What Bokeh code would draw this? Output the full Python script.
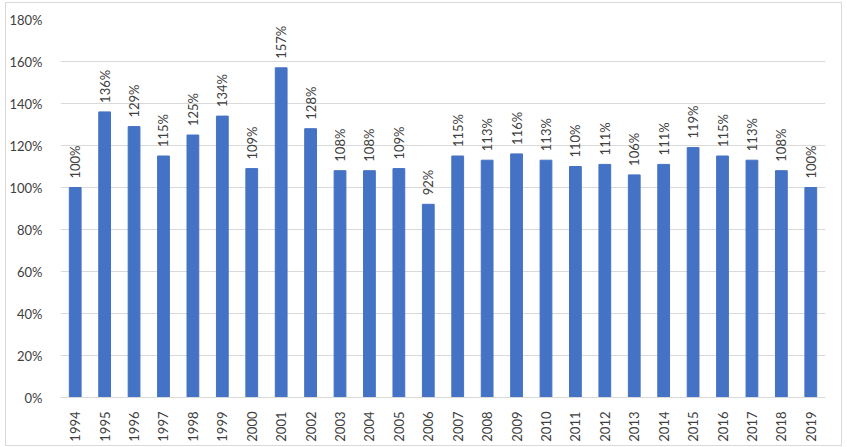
from math import pi
from bokeh.plotting import figure
from bokeh.models import ColumnDataSource, NumeralTickFormatter, FixedTicker
from bokeh.core.properties import value
from bokeh.embed import file_html
from bokeh.resources import INLINE

years = [str(y) for y in range(1994, 2020)]
ratios = [100, 136, 129, 115, 125, 134, 109, 157, 128, 108, 108, 109, 92,
          115, 113, 116, 113, 110, 111, 106, 111, 119, 115, 113, 108, 100]
labels = [f"{v}%" for v in ratios]

src = ColumnDataSource(dict(year=years, val=[v / 100 for v in ratios], lab=labels))

p = figure(x_range=years, y_range=(0, 1.8), width=837, height=444,
           output_backend="svg", toolbar_location=None,
           min_border_left=54, min_border_right=18, min_border_top=16, min_border_bottom=50)
p.margin = (2, 0, 0, 5)
p.styles = {"border": "1px solid #d9d9d9", "box-sizing": "border-box"}
p.vbar(x="year", top="val", width=0.4, color="#4472C4", source=src)
p.text(x="year", y="val", text="lab", source=src, angle=pi / 2,
       text_align="left", text_baseline="middle", y_offset=-9,
       text_font=value("Lato"), text_font_size="13px", text_color="#404040")

p.yaxis.ticker = FixedTicker(ticks=[i * 0.2 for i in range(10)])
p.yaxis.formatter = NumeralTickFormatter(format="0%")
p.yaxis.axis_line_color = None
p.xaxis.axis_line_color = "#d9d9d9"
for ax in (p.xaxis, p.yaxis):
    ax.major_tick_line_color = None
    ax.minor_tick_line_color = None
    ax.major_label_text_font = "Lato"
    ax.major_label_text_font_size = "13px"
    ax.major_label_text_color = "#404040"
p.xaxis.major_label_orientation = pi / 2
p.xaxis.major_label_standoff = 8
p.yaxis.major_label_standoff = 12
p.xgrid.grid_line_color = None
p.ygrid.grid_line_color = "#d9d9d9"
p.ygrid.ticker = FixedTicker(ticks=[i * 0.2 for i in range(10)])
p.outline_line_color = None
p.background_fill_color = "white"

open("out.html", "w").write(file_html(p, INLINE))
